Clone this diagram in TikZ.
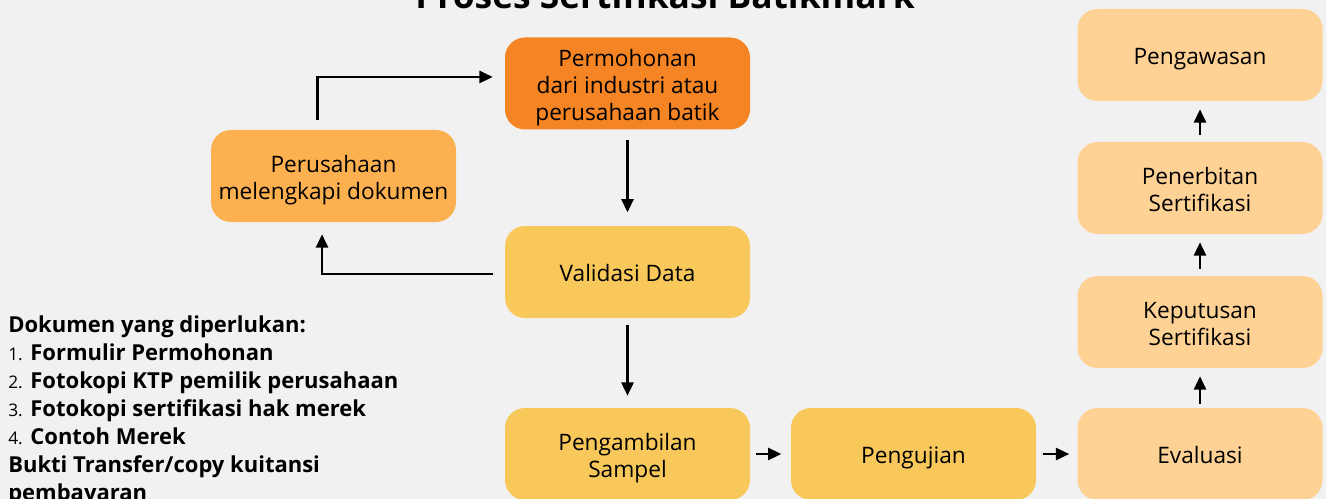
\documentclass[tikz,border=0pt]{standalone}
\usepackage{fontspec}
\setmainfont{Open Sans}
\usetikzlibrary{arrows.meta}

\definecolor{bgGray}{HTML}{F1F1F1}
\definecolor{deepOrange}{HTML}{F48424}
\definecolor{midOrange}{HTML}{FDB04F}
\definecolor{sunYellow}{HTML}{F9C85A}
\definecolor{paleOrange}{HTML}{FED195}

% strut that fixes the height of a first text line
\newcommand{\tallrow}{\rule{0pt}{19.5pt}}

\begin{document}
\begin{tikzpicture}[x=0.75pt, y=-0.75pt,
	stage/.style={rounded corners=15pt, minimum width=183.75pt, minimum height=69pt,
		inner sep=0pt, align=center, font=\fontsize{17}{20.25}\selectfont,
		execute at end node={\rule[-5pt]{0pt}{5pt}}},	% fixed last-line depth
	flow/.style={line width=1.9pt, -{Triangle[length=10pt, width=9pt]}}]
	%% Canvas, a little grey sheet
	\useasboundingbox (0,0) rectangle (1326,499);
	\fill [bgGray] (0,0) rectangle (1326,499);

	%% Title, cut by the upper edge
	\node at (665,9) [anchor=base, font=\fontsize{26.5}{30}\selectfont\bfseries] (title) {Proses Sertifikasi Batikmark};

	%% Left and middle column
	\node at (627.5,83.5) [stage, fill=deepOrange] (perm) {\tallrow Permohonan\\dari industri atau\\perusahaan batik};	% Start
	\node at (333.5,176) [stage, fill=midOrange] (pers) {\tallrow Perusahaan\\melengkapi dokumen};
	\node at (627.5,272) [stage, fill=sunYellow] (valid) {\tallrow Validasi Data};
	\node at (627.5,454) [stage, fill=sunYellow] (sampel) {\tallrow Pengambilan\\Sampel};
	\node at (913.5,454) [stage, fill=sunYellow] (uji) {\tallrow Pengujian};

	%% Right column, read from the bottom up
	\node at (1200,454) [stage, fill=paleOrange] (eval) {\tallrow Evaluasi};
	\node at (1200,322) [stage, fill=paleOrange] (putus) {\tallrow Keputusan\\Sertifikasi};
	\node at (1200,188) [stage, fill=paleOrange] (terbit) {\tallrow Penerbitan\\Sertifikasi};
	\node at (1200,55) [stage, fill=paleOrange] (awas) {\tallrow Pengawasan};

	%% Required papers
	\node at (8,316) [anchor=north west, inner sep=0pt, align=left, font=\fontsize{16.5}{21}\selectfont\bfseries] (docs)
		{Dokumen yang diperlukan:\\
		{\mdseries\fontsize{13}{21}\selectfont 1.} Formulir Permohonan\\
		{\mdseries\fontsize{13}{21}\selectfont 2.} Fotokopi KTP pemilik perusahaan\\
		{\mdseries\fontsize{13}{21}\selectfont 3.} Fotokopi sertifikasi hak merek\\
		{\mdseries\fontsize{13}{21}\selectfont 4.} Contoh Merek\\
		Bukti Transfer/copy kuitansi\\
		pembayaran};

	%% Loop back for missing papers
	\draw [flow] ([xshift=-12pt, yshift=7.5pt]pers.north) |- ([xshift=-9pt, yshift=4.9pt]perm.west);
	\draw [flow] ([xshift=-9pt, yshift=-1.5pt]valid.west) -| ([xshift=-8.6pt, yshift=-9pt]pers.south);

	%% Main line
	\draw [flow, shorten <=7.5pt, shorten >=10pt] (perm) -- (valid);
	\draw [flow, shorten <=5pt, shorten >=9pt] (valid) -- (sampel);
	\draw [flow, shorten <=4.5pt, shorten >=7pt] (sampel) -- (uji);
	\draw [flow, shorten <=5pt, shorten >=6pt] (uji) -- (eval);
	\draw [flow, shorten <=3pt, shorten >=6pt] (eval) -- (putus);
	\draw [flow, shorten <=5pt, shorten >=6pt] (putus) -- (terbit);
	\draw [flow, shorten <=5pt, shorten >=6pt] (terbit) -- (awas);
\end{tikzpicture}
\end{document}
